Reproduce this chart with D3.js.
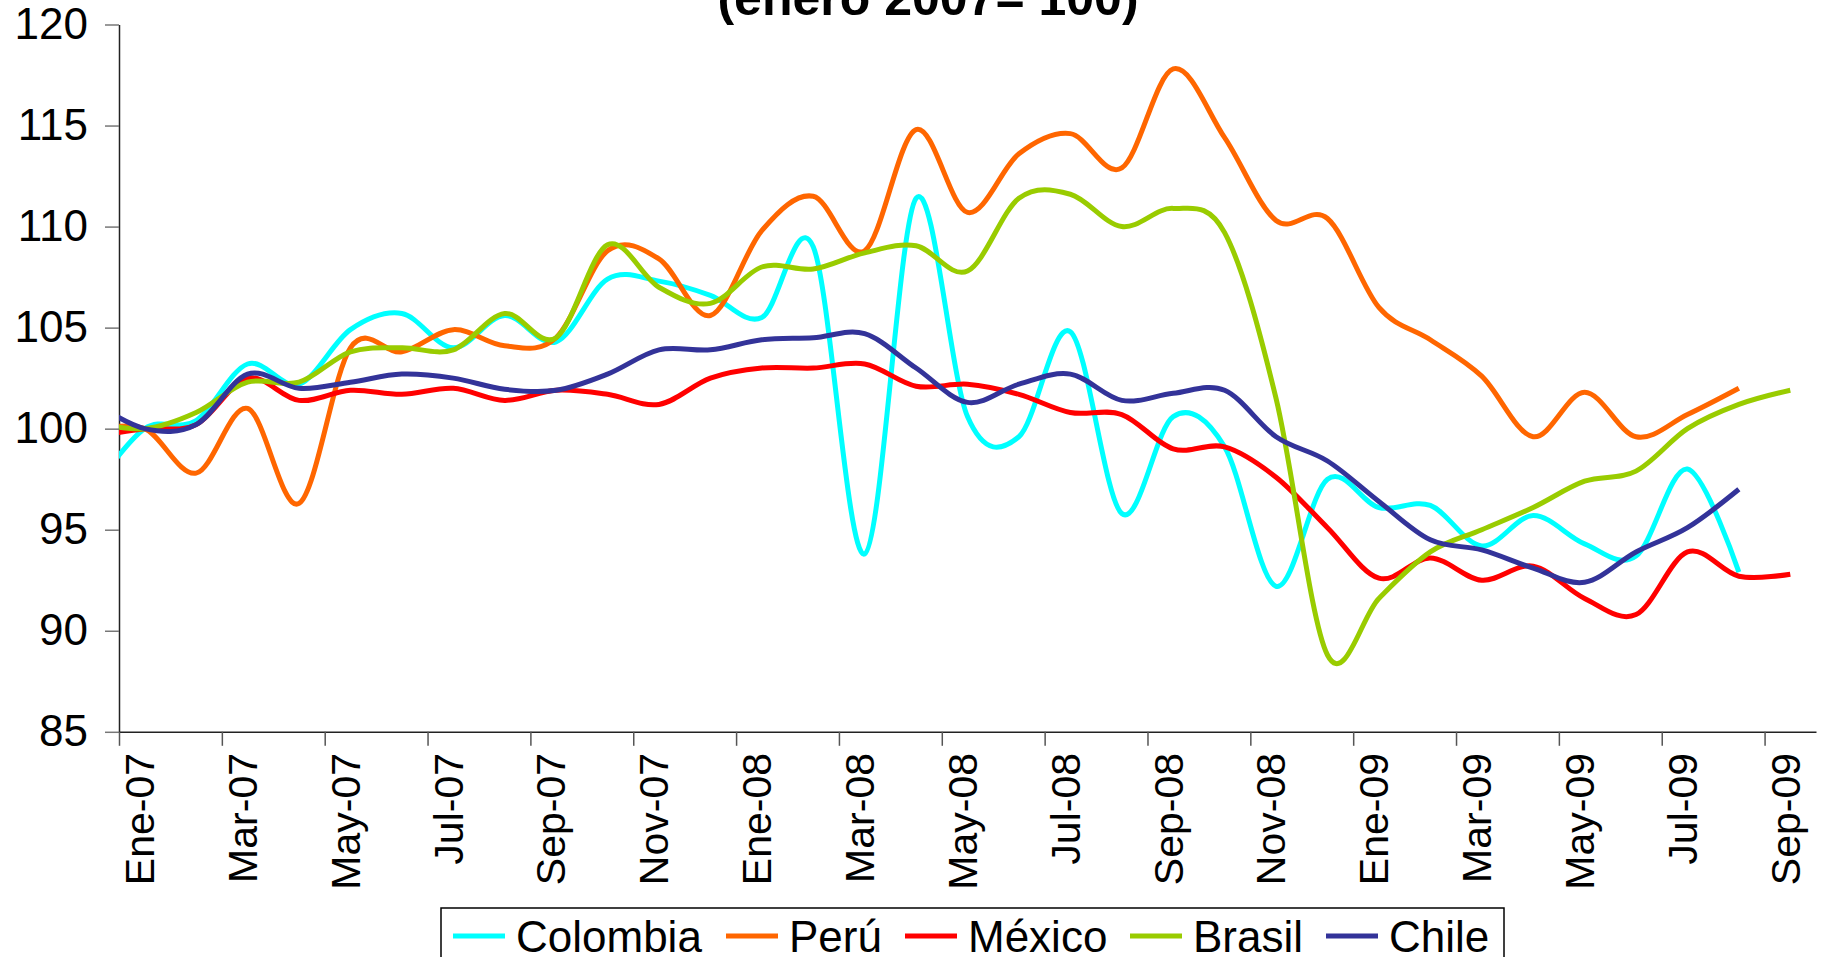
<!DOCTYPE html>
<html>
<head>
<meta charset="utf-8">
<script src="https://cdn.jsdelivr.net/npm/d3@7"></script>
<style>
  body { margin: 0; background: #fff; }
  svg { display: block; font-family: "Liberation Sans", Arial, sans-serif; }
</style>
</head>
<body>
<svg id="chart" width="1830" height="957"></svg>
<script>
// meses (Dic-06 only feeds the curve at the left edge, it is clipped)
var meses = ["Dic-06", "Ene-07", "Feb-07", "Mar-07", "Abr-07", "May-07", "Jun-07", "Jul-07", "Ago-07", "Sep-07", "Oct-07", "Nov-07",
    "Dic-07", "Ene-08", "Feb-08", "Mar-08", "Abr-08", "May-08", "Jun-08", "Jul-08", "Ago-08", "Sep-08", "Oct-08", "Nov-08",
    "Dic-08", "Ene-09", "Feb-09", "Mar-09", "Abr-09", "May-09", "Jun-09", "Jul-09", "Ago-09", "Sep-09"];

var colombia = [97.0, 100.0, 100.4, 103.2, 102.2, 104.9, 105.7, 104.0, 105.6, 104.3, 107.4, 107.3, 106.6, 105.5, 109.0, 93.8, 111.4,
    100.6, 99.6, 104.8, 95.8, 100.6, 99.1, 92.2, 97.5, 96.1, 96.2, 94.2, 95.7, 94.3, 93.7, 98.0, 92.9, null];
var peru = [99.9, 100.0, 97.8, 101.0, 96.3, 104.0, 103.8, 104.9, 104.1, 104.5, 108.8, 108.4, 105.6, 109.8, 111.5, 108.8, 114.8,
    110.7, 113.6, 114.6, 112.9, 117.8, 114.4, 110.3, 110.4, 106.0, 104.4, 102.6, 99.6, 101.8, 99.6, 100.7, 102.0, null];
var mexico = [99.6, 100.0, 100.2, 102.5, 101.4, 101.9, 101.7, 102.0, 101.4, 101.9, 101.7, 101.2, 102.5, 103.0, 103.0, 103.2, 102.1,
    102.2, 101.7, 100.8, 100.7, 99.0, 99.1, 97.6, 95.1, 92.6, 93.6, 92.5, 93.2, 91.6, 90.8, 93.9, 92.7, 92.8];
var brasil = [100.3, 100.0, 100.8, 102.3, 102.3, 103.8, 104.0, 103.9, 105.7, 104.5, 109.1, 107.0, 106.2, 108.0, 107.9, 108.7, 109.05,
    107.8, 111.4, 111.6, 110.0, 110.9, 109.7, 101.5, 88.8, 91.6, 93.9, 95.0, 96.1, 97.4, 97.9, 100.0, 101.2, 101.9];
var chile = [101.3, 100.0, 100.2, 102.7, 102.0, 102.3, 102.7, 102.5, 101.95, 101.9, 102.7, 103.9, 103.9, 104.4, 104.5, 104.7, 103.0,
    101.3, 102.2, 102.7, 101.4, 101.75, 101.9, 99.6, 98.4, 96.4, 94.5, 94.0, 93.1, 92.4, 93.9, 95.1, 97.0, null];

var yTicks = [85, 90, 95, 100, 105, 110, 115, 120];

var series = [
    { name: "Colombia", values: colombia, color: "#00FFFF" },
    { name: "Perú", values: peru, color: "#FF6600" },
    { name: "México", values: mexico, color: "#FF0000" },
    { name: "Brasil", values: brasil, color: "#99CC00" },
    { name: "Chile", values: chile, color: "#333399" }
];

var svg = d3.select("svg#chart");
var plotL = 119, plotR = 1816, plotT = 24.5, plotB = 731.8;

// category k is centred half a month right of its boundary
var x = d3.scaleLinear().domain([0.5, meses.length - 0.5]).range([plotL, plotR]);
var y = d3.scaleLinear().domain([85, 120]).range([plotB, plotT]);

// title (second line, top is cut by the frame)
svg.append("text")
    .attr("x", 928).attr("y", 15)
    .attr("text-anchor", "middle")
    .style("font-size", "50px").style("font-weight", "bold")
    .text("(enero 2007= 100)");

svg.append("clipPath").attr("id", "plot")
    .append("rect").attr("x", plotL).attr("y", 0).attr("width", plotR - plotL).attr("height", 957);

// y axis
var yAxis = svg.append("g")
    .attr("transform", "translate(" + plotL + ",0)")
    .call(d3.axisLeft(y).tickValues(yTicks).tickSize(14).tickSizeOuter(0).tickPadding(17));
yAxis.select(".domain").attr("stroke", "#222").attr("stroke-width", 1.5);
yAxis.selectAll(".tick line").attr("stroke", "#777").attr("stroke-width", 1.5);
yAxis.selectAll(".tick text")
    .attr("fill", "#000")
    .style("font-size", "44px")
    .style("font-family", "'Liberation Sans', Arial, sans-serif");

// x axis: ticks every two months on the boundaries
var tickPos = [];
for (var k = 1; k < meses.length; k += 2) tickPos.push(k - 0.5);
var xAxis = svg.append("g")
    .attr("transform", "translate(0," + plotB + ")")
    .call(d3.axisBottom(x).tickValues(tickPos).tickSize(14).tickSizeOuter(0).tickFormat(""));
xAxis.select(".domain").attr("stroke", "#222").attr("stroke-width", 1.5);
xAxis.selectAll(".tick line").attr("stroke", "#555").attr("stroke-width", 1.5);

var labelIdx = [];
for (var k = 1; k < meses.length; k += 2) labelIdx.push(k);
svg.append("g").selectAll("text")
    .data(labelIdx)
    .enter()
    .append("text")
    .attr("transform", d => "translate(" + (x(d) - 5) + ",753) rotate(-90)")
    .attr("text-anchor", "end")
    .attr("dy", "0.35em")
    .style("font-size", "41px")
    .text(d => meses[d]);

// lines
var line = d3.line()
    .defined(d => d.v != null)
    .x(d => x(d.k))
    .y(d => y(d.v))
    .curve(d3.curveCardinal.tension(0));

svg.append("g").attr("clip-path", "url(#plot)")
    .selectAll("path")
    .data(series)
    .enter()
    .append("path")
    .attr("fill", "none")
    .attr("stroke", s => s.color)
    .attr("stroke-width", 5)
    .attr("stroke-linejoin", "round")
    .attr("d", s => line(s.values.map((v, k) => ({ k: k, v: v }))));

// legend
var legend = svg.append("g");
legend.append("rect")
    .attr("x", 441).attr("y", 908).attr("width", 1063).attr("height", 80)
    .attr("fill", "#fff").attr("stroke", "#000").attr("stroke-width", 1.5);
var legendX = [453, 726, 905, 1130, 1326];
series.forEach((s, i) => {
    legend.append("line")
        .attr("x1", legendX[i]).attr("x2", legendX[i] + 52)
        .attr("y1", 936).attr("y2", 936)
        .attr("stroke", s.color).attr("stroke-width", 5);
    legend.append("text")
        .attr("x", legendX[i] + 63).attr("y", 952)
        .style("font-size", "44px")
        .text(s.name);
});
</script>
</body>
</html>
